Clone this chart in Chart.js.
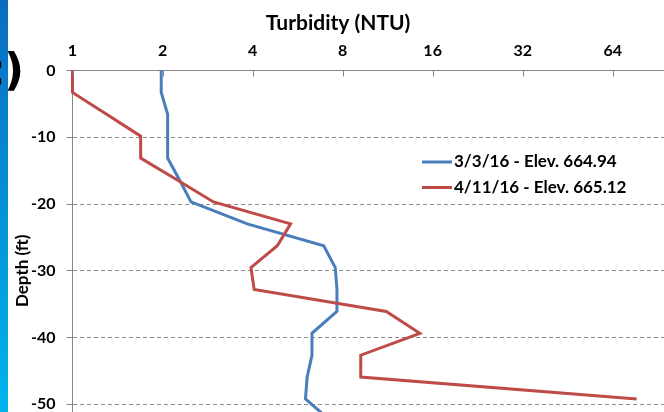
<!DOCTYPE html>
<html>
<head>
<meta charset="utf-8">
<script src="https://cdn.jsdelivr.net/npm/chart.js@4.4.1/dist/chart.umd.min.js"></script>
<style>
  html, body { margin: 0; padding: 0; background: #fff; overflow: hidden; }
  #wrap { position: relative; width: 664px; height: 412px; overflow: hidden; }
  canvas { position: absolute; left: 0; top: 0; }
  #bar { position: absolute; left: 0; top: 0; width: 8px; height: 412px; background: linear-gradient(#0a6cc0, #00b4f0); }
  #panel { position: absolute; left: -22px; top: 50px; font: bold 44px "DejaVu Sans", sans-serif; line-height: 40px; color: #000; }
</style>
</head>
<body>
<div id="wrap">
  <canvas id="chart" width="664" height="472"></canvas>
  <div id="bar"></div>
  <div id="panel">c)</div>
</div>
<script>
// depth of each reading (ft), one per metre
const depthFt = [0, -3.28, -6.56, -9.84, -13.12, -16.40, -19.69, -22.97, -26.25, -29.53, -32.81, -36.09, -39.37, -42.65, -45.93, -49.21, -52.49];
// turbidity (NTU)
const turbMar = [1.98, 1.98, 2.08, 2.08, 2.08, 2.28, 2.49, 3.84, 6.92, 7.56, 7.66, 7.66, 6.32, 6.32, 6.09, 6.01, 7.3];
const turbApr = [1.0, 1.0, 1.30, 1.69, 1.69, 2.24, 2.96, 5.36, 4.84, 3.95, 4.05, 11.2, 14.5, 9.2, 9.2, 77];
const seriesLabels = ['3/3/16 - Elev. 664.94', '4/11/16 - Elev. 665.12'];
const xTicks = [1, 2, 4, 8, 16, 32, 64];

const toPoints = vals => vals.map((v, i) => ({ x: v, y: depthFt[i] }));

// small tick marks pointing into the plot from the top axis
const innerTicks = {
    id: 'innerTicks',
    afterDraw(chart) {
        const ctx = chart.ctx;
        const sx = chart.scales.x;
        const top = chart.chartArea.top;
        ctx.save();
        ctx.strokeStyle = '#868686';
        ctx.lineWidth = 1;
        sx.ticks.forEach(t => {
            const px = Math.round(sx.getPixelForValue(t.value)) + 0.5;
            ctx.beginPath();
            ctx.moveTo(px, top);
            ctx.lineTo(px, top + 6);
            ctx.stroke();
        });
        ctx.restore();
    }
};

// legend sitting inside the plot, like the original
const legendBox = {
    id: 'legendBox',
    afterDraw(chart) {
        const ctx = chart.ctx;
        ctx.save();
        ctx.font = 'bold 17px Lato';
        ctx.textBaseline = 'middle';
        chart.data.datasets.forEach((ds, i) => {
            const y = 162 + i * 25.5;
            ctx.strokeStyle = ds.borderColor;
            ctx.lineWidth = 3;
            ctx.beginPath();
            ctx.moveTo(422, y);
            ctx.lineTo(452, y);
            ctx.stroke();
            ctx.fillStyle = '#000';
            ctx.fillText(ds.label, 454, y);
        });
        ctx.restore();
    }
};

function draw() {
    Chart.defaults.font.family = 'Lato';
    Chart.defaults.font.weight = 'bold';
    Chart.defaults.color = '#000';

    const ctx = document.getElementById('chart').getContext('2d');
    new Chart(ctx, {
        type: 'line',
        data: {
            datasets: [{
                label: seriesLabels[0],
                data: toPoints(turbMar),
                borderColor: '#4a7ebb',
                borderWidth: 3,
                pointRadius: 0,
                order: 1,
                clip: 6
            }, {
                label: seriesLabels[1],
                data: toPoints(turbApr),
                borderColor: '#be4b48',
                borderWidth: 3,
                pointRadius: 0,
                order: 0,
                clip: 6
            }]
        },
        options: {
            responsive: false,
            animation: false,
            layout: { padding: { left: 12, right: 0, top: 0, bottom: 1 } },
            plugins: {
                legend: { display: false },
                tooltip: { enabled: false },
                title: {
                    display: true,
                    text: 'Turbidity (NTU)',
                    color: '#000',
                    font: { size: 21, weight: 'bold' },
                    padding: { top: 11, bottom: 0 }
                }
            },
            scales: {
                x: {
                    type: 'logarithmic',
                    position: 'top',
                    min: 1,
                    max: 95,
                    afterBuildTicks: s => { s.ticks = xTicks.map(v => ({ value: v })); },
                    afterFit: s => { s.height = 70.5 - 36.2; },
                    grid: { drawOnChartArea: false, drawTicks: false },
                    border: { color: '#868686', width: 1 },
                    ticks: {
                        color: '#000',
                        font: { size: 16, weight: 'bold' },
                        padding: 10,
                        autoSkip: false,
                        maxRotation: 0,
                        callback: v => String(v)
                    }
                },
                y: {
                    min: -60,
                    max: 0,
                    afterFit: s => {
                        s.width = 60.5;
                        s.paddingTop = 0;
                        s.paddingBottom = 0;
                    },
                    ticks: {
                        stepSize: 10,
                        color: '#000',
                        font: { size: 16, weight: 'bold' },
                        padding: 11
                    },
                    grid: { color: '#8c8c8c', tickLength: 6, tickColor: '#868686' },
                    border: { color: '#868686', width: 1, dash: [4, 3] },
                    title: {
                        display: true,
                        text: 'Depth (ft)',
                        color: '#000',
                        font: { size: 17, weight: 'bold' },
                        padding: 0
                    }
                }
            }
        },
        plugins: [innerTicks, legendBox]
    });
}

document.fonts.load('bold 16px Lato').then(draw, draw);
</script>
</body>
</html>
